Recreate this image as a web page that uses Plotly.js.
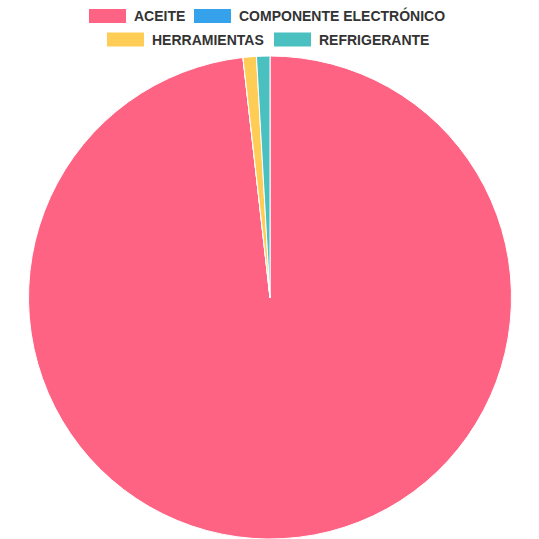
<!DOCTYPE html>
<html>
<head>
<meta charset="utf-8">
<script src="https://cdn.plot.ly/plotly-3.0.1.min.js"></script>
<style>html,body{margin:0;padding:0;background:#fff;}#chart{width:539px;height:539px;}</style>
</head>
<body>
<div id="chart"></div>
<script>
const categories = ["ACEITE", "COMPONENTE ELECTRÓNICO", "HERRAMIENTAS", "REFRIGERANTE"];
const values = [110, 0, 1, 1];
const colors = ["rgb(255,99,132)", "rgb(54,162,235)", "rgb(255,205,86)", "rgb(75,192,192)"];

const W = 539, H = 539, ML = 28, MR = 27, MT = 56, MB = 0;
const pw = W - ML - MR, ph = H - MT - MB;
const px = x => (x - ML) / pw;
const py = y => (H - MB - y) / ph;

// legend layout (pixel positions of boxes)
const legendRows = [
  {y: 16, items: [{i: 0, x: 89}, {i: 1, x: 194}]},
  {y: 39.5, items: [{i: 2, x: 107}, {i: 3, x: 274}]}
];
const shapes = [], annotations = [];
legendRows.forEach(r => r.items.forEach(it => {
  shapes.push({type: 'rect', xref: 'paper', yref: 'paper',
    x0: px(it.x), x1: px(it.x + 37), y0: py(r.y - 7), y1: py(r.y + 7),
    fillcolor: colors[it.i], line: {color: colors[it.i], width: 0}});
  annotations.push({xref: 'paper', yref: 'paper', x: px(it.x + 43), y: py(r.y),
    xanchor: 'left', yanchor: 'middle', showarrow: false, text: categories[it.i],
    font: {family: 'Liberation Sans, Arial, sans-serif', size: 14, weight: 'bold', color: '#333'}});
}));

Plotly.newPlot('chart', [{
  type: 'pie', labels: categories, values: values, sort: false,
  direction: 'clockwise', rotation: 0, textinfo: 'none',
  marker: {colors: colors, line: {color: '#fff', width: 1}},
  showlegend: false
}], {
  width: W, height: H, margin: {l: ML, r: MR, t: MT, b: MB, pad: 0},
  paper_bgcolor: '#fff', plot_bgcolor: '#fff', showlegend: false,
  shapes: shapes, annotations: annotations
}, {displayModeBar: false, staticPlot: true});
</script>
</body>
</html>
